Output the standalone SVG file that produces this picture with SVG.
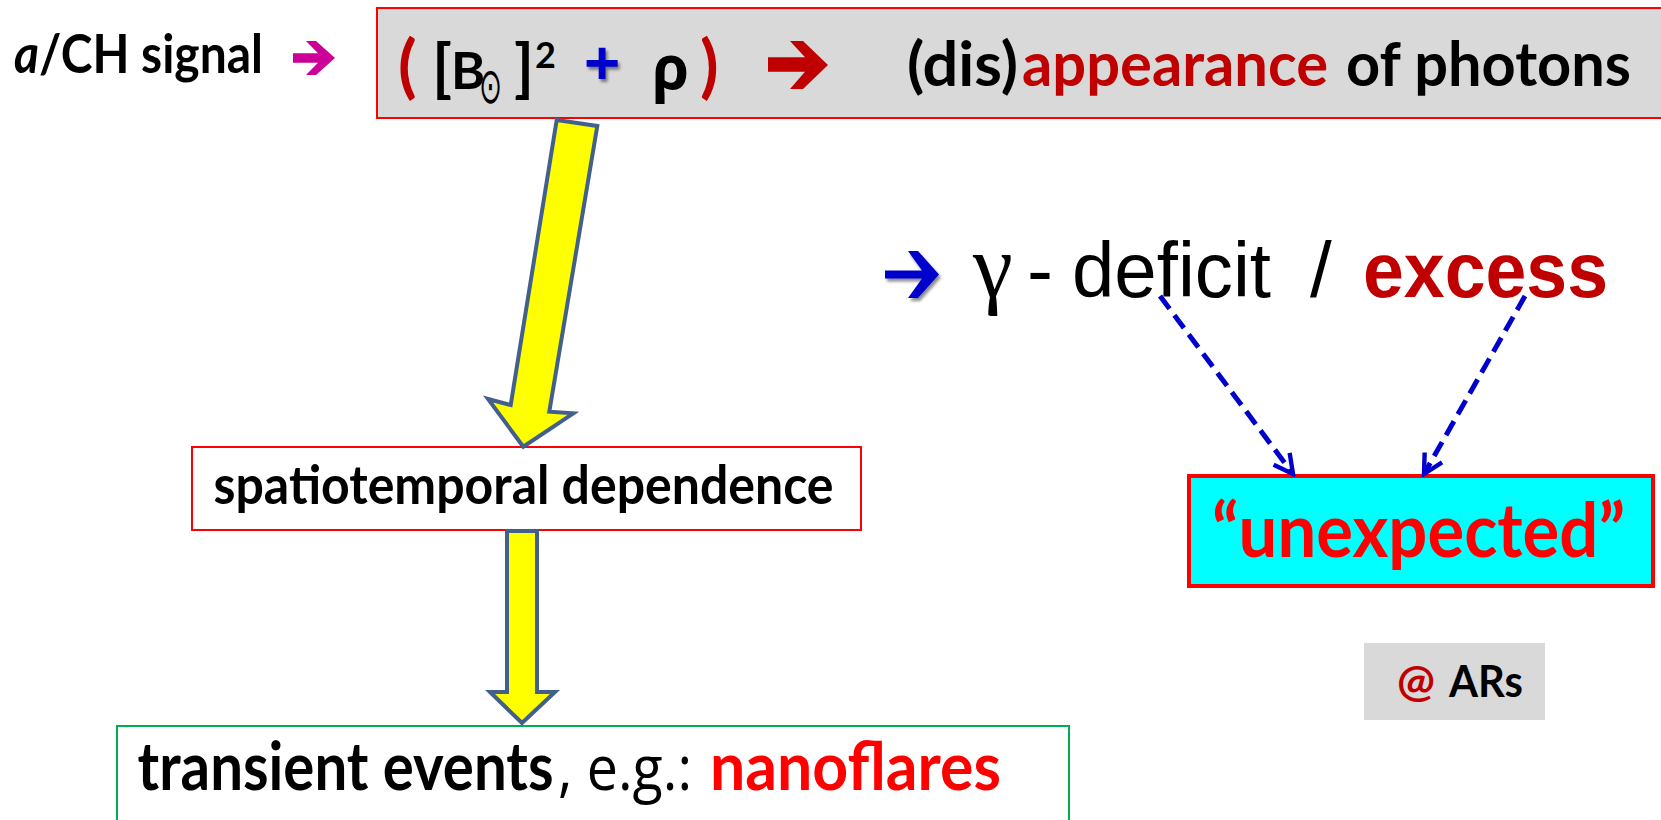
<svg xmlns="http://www.w3.org/2000/svg" width="1661" height="820" viewBox="0 0 1661 820">
<defs>
<style>
.cal{font-family:Lato,"Open Sans","Liberation Sans",sans-serif;font-weight:bold}
.reg{font-family:"Open Sans","Liberation Sans",sans-serif;font-weight:normal}
.ar{font-family:"Liberation Sans",Arial,sans-serif}
.dred{fill:#c00000}
.red{fill:#ff0000}
.blk{fill:#000000}
.big{stroke:#41618c;stroke-width:4;fill:#ffff00;stroke-linejoin:miter}
.dash{stroke:#0000cc;stroke-width:5;stroke-dasharray:16 8;fill:none}
</style>
<filter id="sh" x="-20%" y="-20%" width="150%" height="150%">
<feDropShadow dx="2" dy="3" stdDeviation="1.5" flood-color="#000000" flood-opacity="0.45"/>
</filter>
<marker id="vh" viewBox="0 0 12 12" refX="10.5" refY="6" markerWidth="24" markerHeight="24" markerUnits="userSpaceOnUse" orient="auto">
<path d="M1,1 L10.5,6 L1,11" fill="none" stroke="#0000cc" stroke-width="2.2"/>
</marker>
</defs>
<rect width="1661" height="820" fill="#ffffff"/>

<g id="label-signal">
<text class="cal blk" x="14" y="73" font-size="54" textLength="249" lengthAdjust="spacingAndGlyphs"><tspan font-style="italic">a</tspan>/CH signal</text>
<polygon points="293,53.3 318,53.3 306,41 316,41 335,58 316,75 306,75 318,62.7 293,62.7" fill="#cc0099"/>
</g>

<g id="top-box">
<rect x="377" y="8" width="1290" height="110" fill="#d9d9d9" stroke="#ff0000" stroke-width="2"/>
<text class="cal dred" x="398" y="90" font-size="68">(</text>
<text class="cal blk" x="432" y="90" font-size="64">[</text>
<text class="cal blk" x="451" y="89" font-size="52">B</text>
<text x="0" y="0" font-family="'DejaVu Sans',sans-serif" font-size="50" transform="translate(479,103) scale(0.55,1)" fill="#000000">⊙</text>
<text class="cal blk" x="514" y="90" font-size="64">]</text>
<text class="cal blk" x="535" y="68" font-size="36">2</text>
<text x="584" y="84" font-family="'Liberation Sans',sans-serif" font-weight="bold" font-size="62" fill="#0000cc" filter="url(#sh)">+</text>
<text x="652" y="89" font-family="'Open Sans','DejaVu Sans',sans-serif" font-weight="bold" font-size="60" fill="#000000">ρ</text>
<text class="cal dred" x="700" y="90" font-size="68">)</text>
<polygon points="768,57.3 805,57.3 790,41 803,41 828,65 803,89 790,89 805,71.7 768,71.7" fill="#c00000"/>
<text class="cal blk" x="907" y="86" font-size="62" textLength="111" lengthAdjust="spacingAndGlyphs">(dis)</text>
<text class="cal dred" x="1022" y="86" font-size="62" textLength="306" lengthAdjust="spacingAndGlyphs">appearance</text>
<text class="cal blk" x="1346" y="86" font-size="62" textLength="285" lengthAdjust="spacingAndGlyphs">of photons</text>
</g>

<g id="middle-box">
<rect x="192" y="447" width="669" height="83" fill="#ffffff" stroke="#ff0000" stroke-width="2"/>
<text class="cal blk" x="213.5" y="504" font-size="54" textLength="620" lengthAdjust="spacingAndGlyphs">spatiotemporal dependence</text>
</g>

<g id="bottom-box">
<rect x="117" y="726" width="952" height="110" fill="#ffffff" stroke="#00b050" stroke-width="2"/>
<text class="cal blk" x="137.6" y="790" font-size="66" textLength="416" lengthAdjust="spacingAndGlyphs">transient events</text>
<text class="reg" x="558" y="790" font-size="62" fill="#000000" textLength="134" lengthAdjust="spacingAndGlyphs">, e.g.:</text>
<text class="cal red" x="710" y="790" font-size="66" textLength="291" lengthAdjust="spacingAndGlyphs">nanoflares</text>
</g>

<g id="gamma-line">
<polygon points="885,270.5 922,270.5 908,251 918,251 939,274.5 918,298 908,298 922,278.5 885,278.5" fill="#0000cc" filter="url(#sh)"/>
<text x="973" y="297" font-family="'Liberation Serif',serif" font-size="90" fill="#000000">γ</text>
<text class="ar" x="1027" y="297" font-size="78" fill="#000000">-</text>
<text class="ar" x="1072" y="297" font-size="78" fill="#000000" textLength="199" lengthAdjust="spacingAndGlyphs">deficit</text>
<text class="ar" x="1310" y="297" font-size="78" fill="#000000">/</text>
<text class="ar" x="1363" y="297" font-size="78" font-weight="bold" fill="#c00000" textLength="245" lengthAdjust="spacingAndGlyphs">excess</text>
</g>

<g id="unexpected-box">
<rect x="1189" y="476" width="464" height="110" fill="#00ffff" stroke="#ff0000" stroke-width="4"/>
<text class="cal red" x="1212" y="557" font-size="74" textLength="413" lengthAdjust="spacingAndGlyphs">“unexpected”</text>
</g>

<g id="ars-box">
<rect x="1364" y="643" width="181" height="77" fill="#d9d9d9"/>
<text class="cal dred" x="1397" y="697" font-size="44" textLength="38" lengthAdjust="spacingAndGlyphs">@</text>
<text class="cal blk" x="1449" y="697" font-size="44" textLength="74" lengthAdjust="spacingAndGlyphs">ARs</text>
</g>

<g id="connectors">
<polygon class="big" points="556.7,120 597.3,126 549.3,411.7 573.3,413.3 523.3,446.7 488,399 510.7,405"/>
<polygon class="big" points="507,531 537,531 537,692 555,692 522,723 490,692 507,692"/>
<line class="dash" x1="1160" y1="296" x2="1293" y2="474" marker-end="url(#vh)"/>
<line class="dash" x1="1525" y1="296" x2="1424" y2="474" marker-end="url(#vh)"/>
</g>
</svg>
